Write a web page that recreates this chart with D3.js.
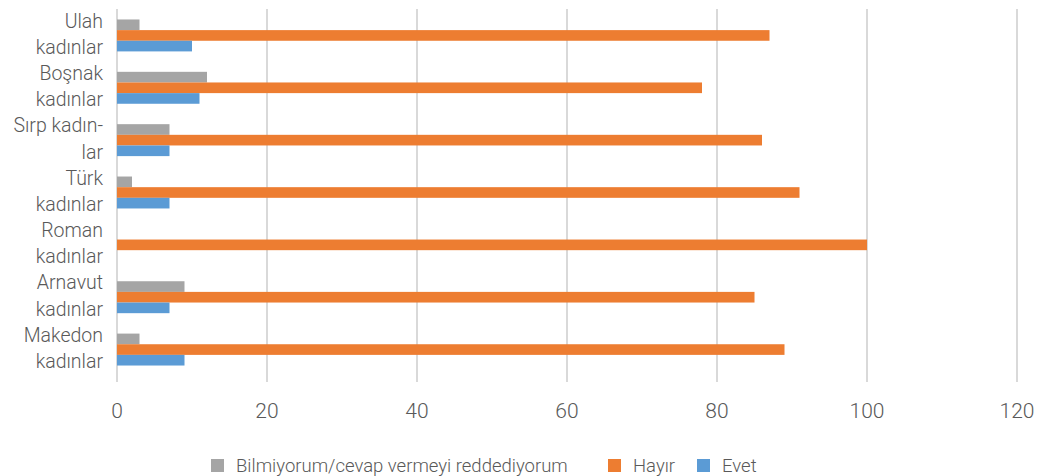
<!DOCTYPE html>
<html>
<head>
<meta charset="utf-8">
<script src="https://cdn.jsdelivr.net/npm/d3@7"></script>
<style>
  body { margin: 0; background: #fff; }
  text { font-family: "Roboto", "DejaVu Sans", sans-serif; font-weight: 300; fill: #595959; }
</style>
</head>
<body>
<script>
// categories top to bottom, label lines as they wrap in the original
var categories = ["Ulah", "Boşnak", "Sırp", "Türk", "Roman", "Arnavut", "Makedon"];
var labelLines = [
  ["Ulah", "kadınlar"],
  ["Boşnak", "kadınlar"],
  ["Sırp kadın-", "lar"],
  ["Türk", "kadınlar"],
  ["Roman", "kadınlar"],
  ["Arnavut", "kadınlar"],
  ["Makedon", "kadınlar"]
];
var seriesNames = ["Bilmiyorum/cevap vermeyi reddediyorum", "Hayır", "Evet"];
var bilmiyorum = [3, 12, 7, 2, 0, 9, 3];
var hayir = [87, 78, 86, 91, 100, 85, 89];
var evet = [10, 11, 7, 7, 0, 7, 9];
var xTicks = [0, 20, 40, 60, 80, 100, 120];
var colors = ["#A5A5A5", "#ED7D31", "#5B9BD5"];

var W = 1039, H = 476;
var margin = {left: 117, right: 22, top: 9, bottom: 100};

var svg = d3.select("body").append("svg")
    .attr("width", W).attr("height", H);

var x = d3.scaleLinear().domain([0, 120]).range([margin.left, W - margin.right]);
var y = d3.scaleBand().domain(categories).range([margin.top, H - margin.bottom]).paddingInner(0.39).paddingOuter(0.2);
var ySub = d3.scaleBand().domain(seriesNames).range([0, y.bandwidth()]);

var series = [bilmiyorum, hayir, evet];

// gridlines
svg.append("g").selectAll("line").data(xTicks).enter().append("line")
    .attr("x1", function(d) { return x(d); }).attr("x2", function(d) { return x(d); })
    .attr("y1", margin.top).attr("y2", H - margin.bottom + 6)
    .attr("stroke", "#D9D9D9").attr("stroke-width", 2);

// bars
series.forEach(function(vals, si) {
  svg.append("g").selectAll("rect").data(vals).enter().append("rect")
      .attr("x", x(0))
      .attr("y", function(d, i) { return y(categories[i]) + ySub(seriesNames[si]); })
      .attr("width", function(d) { return x(d) - x(0); })
      .attr("height", ySub.bandwidth())
      .attr("fill", colors[si]);
});

// category labels
var lab = svg.append("g").selectAll("text").data(categories).enter().append("text")
    .attr("text-anchor", "end")
    .attr("font-size", 19.5)
    .attr("y", function(d) { return y(d) + y.bandwidth() / 2; });
lab.each(function(d, i) {
  var t = d3.select(this);
  labelLines[i].forEach(function(line, li) {
    t.append("tspan").attr("x", 103)
      .attr("dy", li === 0 ? "-0.4em" : "1.35em")
      .text(line);
  });
});

// x axis labels
svg.append("g").selectAll("text").data(xTicks).enter().append("text")
    .attr("x", function(d) { return x(d); })
    .attr("y", 418)
    .attr("text-anchor", "middle")
    .attr("font-size", 21)
    .text(function(d) { return d; });

// legend
var legendX = [211, 608, 697];
var leg = svg.append("g").selectAll("g").data(seriesNames).enter().append("g")
    .attr("transform", function(d, i) { return "translate(" + legendX[i] + ",459)"; });
leg.append("rect").attr("width", 13).attr("height", 13)
    .attr("fill", function(d, i) { return colors[i]; });
leg.append("text").attr("x", 25).attr("y", 13)
    .attr("font-size", 18.5)
    .text(function(d) { return d; });
</script>
</body>
</html>
